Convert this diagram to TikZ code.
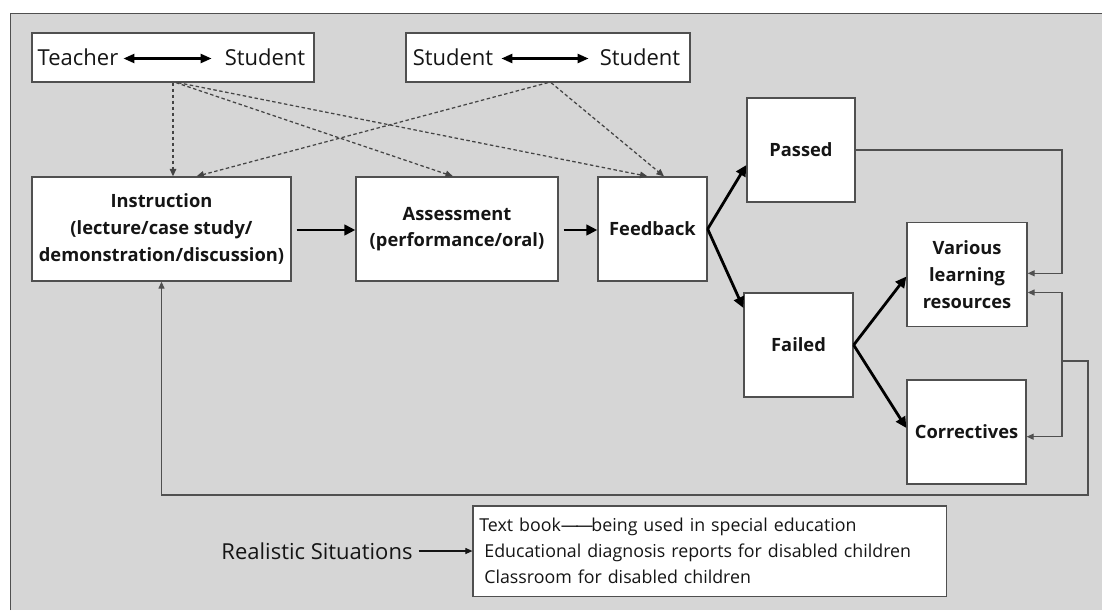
\documentclass[tikz,border=0pt]{standalone}
\usepackage{fontspec}
\setmainfont{Open Sans}
\usetikzlibrary{arrows.meta,calc}
\definecolor{panel}{HTML}{D6D6D6}
\definecolor{edge}{HTML}{505050}
\definecolor{ink}{HTML}{151515}
\begin{document}
\begin{tikzpicture}[x=1pt,y=-1pt,
  box/.style={draw=edge,line width=1.3pt,fill=white,inner sep=0pt,align=center,text=ink},
  stage/.style={box,minimum height=104pt,font=\fontsize{18.3}{26.7}\selectfont\bfseries},
  pairbox/.style={box,minimum width=#1,minimum height=49pt},
  plain/.style={inner sep=0pt,text=ink,font=\fontsize{22}{26}\selectfont},
  boldarrow/.style={draw=black,line width=2.8pt,-{Triangle[length=11pt,width=10.5pt]}},
  twoway/.style={draw=black,line width=2.4pt,{Triangle[length=11pt,width=9pt]}-{Triangle[length=11pt,width=9pt]}},
  link/.style={draw=edge,line width=1.2pt,-{Triangle[length=7pt,width=6pt]}},
  hint/.style={draw=edge!85!black,line width=1.25pt,dash pattern=on 3.5pt off 2.5pt,-{Triangle[length=7.5pt,width=6.5pt]}},
]
% canvas and panel
\useasboundingbox (0,0) rectangle (1102,610);
\fill[white] (0,0) rectangle (1102,610);
\fill[panel] (10.7,13.3) rectangle (1102,610);
\draw[edge,line width=1.4pt] (10.7,610) -- (10.7,13.3) -- (1102,13.3);

% interaction boxes
\node[pairbox=282pt] (tsbox) at (173,57.5) {};
\node[plain] (tsT) at (78,57.5) {Teacher};
\node[plain] (tsS) at (265,57.5) {Student};
\draw[twoway] ($(tsT.east)+(5,1)$) -- ($(tsS.west)+(-13,1)$);

\node[pairbox=284pt] (ssbox) at (548,57.5) {};
\node[plain] (ssA) at (453,57.5) {Student};
\node[plain] (ssB) at (640,57.5) {Student};
\draw[twoway] ($(ssA.east)+(8,1)$) -- ($(ssB.west)+(-11,1)$);

% teaching stages
\node[stage,minimum width=259pt] (instr) at (161.5,229) {Instruction\\(lecture/case study/\\demonstration/discussion)};
\node[stage,minimum width=202pt] (assess) at (457,229) {Assessment\\(performance/oral)};
\node[stage,minimum width=109pt] (feedb) at (652.5,229) {Feedback};
\node[stage,minimum width=108pt] (passed) at (801,150) {Passed};
\node[stage,minimum width=109pt] (failed) at (798.5,345) {Failed};
\node[stage,minimum width=120pt] (various) at (967,274.5) {Various\\learning\\resources};
\node[stage,minimum width=119pt] (correct) at (966.5,432) {Correctives};

% main flow
\draw[boldarrow] ($(instr.east)+(5,1)$) -- ($(assess.west)+(0,1)$);
\draw[boldarrow] ($(assess.east)+(5,1)$) -- ($(feedb.west)+(0,1)$);
\draw[boldarrow] (feedb.east) -- ($(passed.west)+(0,15)$);
\draw[boldarrow] (feedb.east) -- ($(failed.west)+(0,-37)$);
\draw[boldarrow] (failed.east) -- ($(various.west)+(0,2)$);
\draw[boldarrow] (failed.east) -- ($(correct.west)+(0,-4)$);

% interaction influences
\draw[hint] (tsbox.south) -- (tsbox.south |- instr.north);
\draw[hint] ($(tsbox.south)+(3,0)$) -- ($(assess.north)+(-4,0)$);
\draw[hint] ($(tsbox.south)+(5,0)$) -- ($(feedb.north)+(-5,0)$);
\draw[hint] (ssbox.south) -- ($(instr.north)+(35,0)$);
\draw[hint] ($(ssbox.south)+(3,0)$) -- ($(feedb.north)+(11.5,0)$);

% remediation loops
\coordinate (rx) at (1062,150);
\coordinate (jn) at (1062,361);
\coordinate (lb) at (1088,495);
\draw[link] (passed.east) -- (rx) |- ($(various.east)+(0,-1.2)$);
\draw[link] (jn) |- ($(various.east)+(0,18)$);
\draw[link] (jn) |- ($(correct.east)+(0,4.7)$);
\draw[link] (jn) -- (jn -| lb) -- (lb) -| (instr.south);

% realistic situations
\node[box,align=left,inner xsep=6.3pt,inner ysep=0pt,text width=461pt,minimum height=90.7pt,
      font=\fontsize{17.8}{26}\selectfont] (sit) at (709.85,551.3)
  {Text book—\kern-3pt—\kern-2pt being used in special education\\
   \hspace*{5pt}Educational diagnosis reports for disabled children\\
   \hspace*{5pt}Classroom for disabled children};
\node[plain] (real) at (317,551) {Realistic Situations};
\draw[link,draw=ink,line width=1.1pt] ($(real.east)+(6,0)$) -- (real.east -| sit.west);
\end{tikzpicture}
\end{document}
